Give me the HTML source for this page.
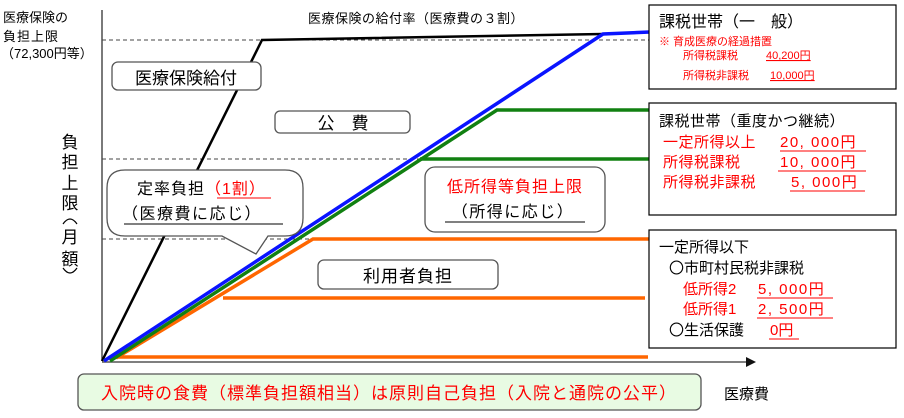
<!DOCTYPE html>
<html><head><meta charset="utf-8"><style>
body{margin:0;background:#fff;}
svg{display:block;font-family:"Liberation Sans","Noto Sans CJK JP",sans-serif;}
</style></head><body>
<svg width="904" height="418" viewBox="0 0 904 418" xmlns="http://www.w3.org/2000/svg">
<line x1="102" y1="10" x2="102" y2="361" stroke="#333" stroke-width="1.3"/>
<line x1="102" y1="362" x2="748" y2="362" stroke="#555" stroke-width="1.5"/>
<polygon points="746,357 756,362 746,367" fill="#111"/>
<g stroke="#444" stroke-width="1" stroke-dasharray="4,3">
<line x1="102" y1="40" x2="650" y2="40"/>
<line x1="102" y1="159" x2="420" y2="159"/>
<line x1="102" y1="239" x2="310" y2="239"/>
</g>
<polyline points="102,361 262,40 603,34" fill="none" stroke="#000" stroke-width="2.5"/>
<polyline points="116,358 313,239 650,239" fill="none" stroke="#ff6600" stroke-width="3.5"/>
<line x1="223" y1="298" x2="645" y2="298" stroke="#ff6600" stroke-width="3.5"/>
<line x1="118" y1="357" x2="648" y2="357" stroke="#ff6600" stroke-width="3.5"/>
<polyline points="110,361 497,110 650,110" fill="none" stroke="#118011" stroke-width="3.5"/>
<line x1="420" y1="159" x2="650" y2="159" stroke="#118011" stroke-width="3.5"/>
<polyline points="104,361 603,34 650,32" fill="none" stroke="#0a14ff" stroke-width="3.5"/>
<g font-size="13" fill="#000">
<text x="3" y="22">医療保険の</text>
<text x="3" y="41" letter-spacing="1">負担上限</text>
<text x="1" y="58">（72,300円等）</text>
<text x="308" y="23" letter-spacing="0.5">医療保険の給付率（医療費の３割）</text>
</g>
<g font-size="17" fill="#000" text-anchor="middle">
<text x="70" y="148">負</text>
<text x="70" y="168">担</text>
<text x="70" y="189">上</text>
<text x="70" y="209">限</text>
<text x="70" y="243">月</text>
<text x="70" y="265">額</text>
</g>
<path d="M63,224 Q70,214 77,224" fill="none" stroke="#000" stroke-width="1.2"/>
<path d="M63,268 Q70,278 77,268" fill="none" stroke="#000" stroke-width="1.2"/>
<rect x="112" y="62" width="149" height="28" rx="6" fill="#fff" stroke="#555" stroke-width="1.3"/>
<text x="186" y="84" font-size="17" text-anchor="middle">医療保険給付</text>
<rect x="275" y="111" width="135" height="22" rx="5" fill="#fff" stroke="#555" stroke-width="1.3"/>
<text x="343" y="129" font-size="17" text-anchor="middle">公　費</text>
<path d="M125,170 H285 Q303,170 303,188 V218 Q303,236 285,236 H268 L256,254 L222,236 H125 Q107,236 107,218 V188 Q107,170 125,170 Z" fill="#fff" stroke="#555" stroke-width="1.3"/>
<text x="137" y="194" font-size="16" letter-spacing="1">定率負担<tspan fill="#f00">（1割）</tspan></text>
<line x1="217" y1="198" x2="271" y2="198" stroke="#f00" stroke-width="1"/>
<text x="122" y="219" font-size="16" letter-spacing="1.5">（医療費に応じ）</text>
<line x1="124" y1="224" x2="283" y2="224" stroke="#000" stroke-width="1"/>
<rect x="425" y="167" width="180" height="65" rx="10" fill="#fff" stroke="#555" stroke-width="1.3"/>
<text x="515" y="192" font-size="16" fill="#f00" text-anchor="middle" letter-spacing="1">低所得等負担上限</text>
<text x="513" y="217" font-size="16" text-anchor="middle" letter-spacing="1.5">（所得に応じ）</text>
<line x1="445" y1="222" x2="585" y2="222" stroke="#000" stroke-width="1"/>
<rect x="318" y="260" width="180" height="29" rx="6" fill="#fff" stroke="#555" stroke-width="1.3"/>
<text x="408" y="282" font-size="17" text-anchor="middle" letter-spacing="1">利用者負担</text>
<rect x="649" y="5" width="247" height="84" fill="#fff" stroke="#000" stroke-width="1.2"/>
<text x="659" y="27" font-size="16">課税世帯（一　般）</text>
<g font-size="11" fill="#f00">
<text x="659" y="45">※ 育成医療の経過措置</text>
<text x="683" y="59">所得税課税</text>
<text x="766" y="59" text-decoration="underline">40,200円</text>
<text x="683" y="79">所得税非課税</text>
<text x="770" y="79" text-decoration="underline">10,000円</text>
</g>
<rect x="649" y="103" width="247" height="112" fill="#fff" stroke="#000" stroke-width="1.2"/>
<text x="659" y="126" font-size="15" letter-spacing="0.5">課税世帯（重度かつ継続）</text>
<g font-size="15" fill="#f00">
<text x="663" y="147" letter-spacing="0.5">一定所得以上</text>
<text x="780" y="147" letter-spacing="1.5">20, 000円</text>
<line x1="780" y1="151" x2="866" y2="151" stroke="#f00"/>
<text x="663" y="167" letter-spacing="0.5">所得税課税</text>
<text x="780" y="167" letter-spacing="1.5">10, 000円</text>
<line x1="778" y1="171" x2="866" y2="171" stroke="#f00"/>
<text x="663" y="187" letter-spacing="0.5">所得税非課税</text>
<text x="791" y="187" letter-spacing="1.5">5, 000円</text>
<line x1="790" y1="191" x2="865" y2="191" stroke="#f00"/>
</g>
<rect x="649" y="230" width="247" height="118" fill="#fff" stroke="#000" stroke-width="1.2"/>
<g font-size="15">
<text x="659" y="252">一定所得以下</text>
<text x="669" y="273">〇市町村民税非課税</text>
<text x="669" y="335">〇生活保護</text>
</g>
<g font-size="15" fill="#f00">
<text x="683" y="294">低所得2</text>
<text x="758" y="294" letter-spacing="1.5">5, 000円</text>
<line x1="757" y1="298" x2="833" y2="298" stroke="#f00"/>
<text x="683" y="314">低所得1</text>
<text x="758" y="314" letter-spacing="1.5">2, 500円</text>
<line x1="757" y1="318" x2="833" y2="318" stroke="#f00"/>
<text x="770" y="335">0円</text>
<line x1="769" y1="339" x2="799" y2="339" stroke="#f00"/>
</g>
<rect x="78" y="374" width="623" height="36" rx="6" fill="#e8fbe3" stroke="#555" stroke-width="1.3"/>
<text x="389" y="399" font-size="17" fill="#f00" text-anchor="middle" letter-spacing="1">入院時の食費（標準負担額相当）は原則自己負担（入院と通院の公平）</text>
<text x="724" y="399" font-size="15">医療費</text>
</svg>
</body></html>
